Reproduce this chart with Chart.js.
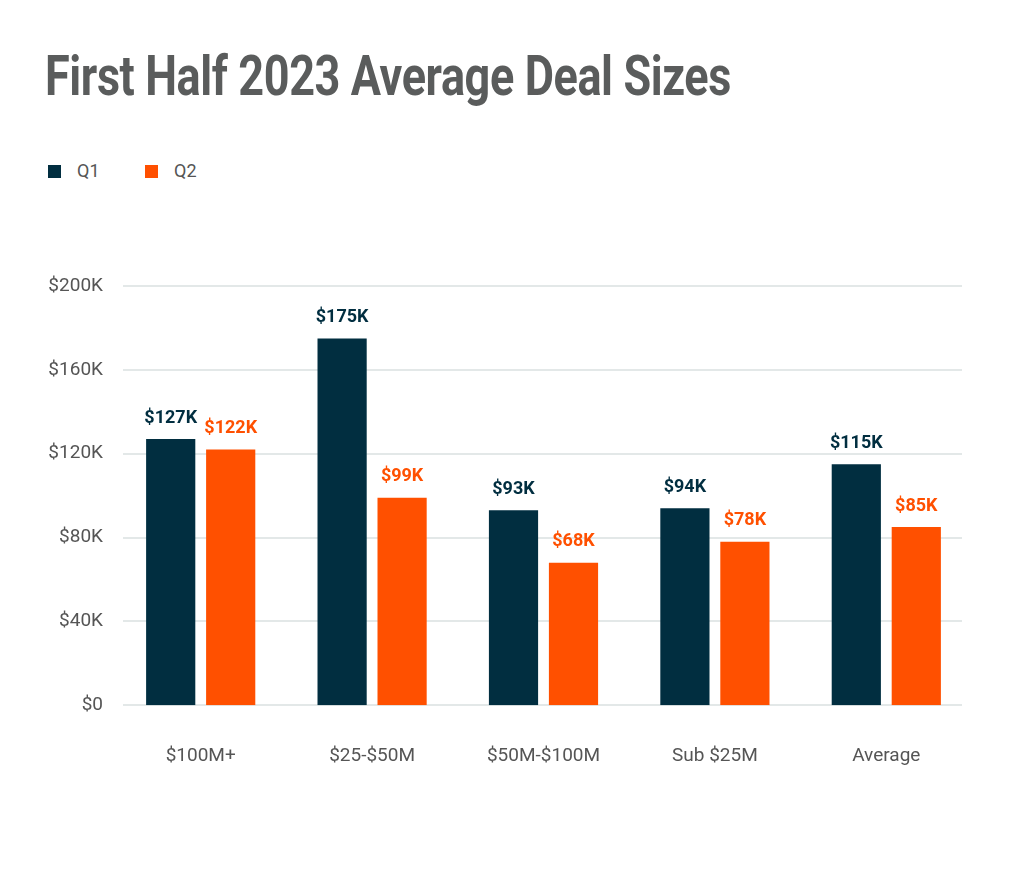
<!DOCTYPE html>
<html>
<head>
<meta charset="utf-8">
<script src="https://cdn.jsdelivr.net/npm/chart.js@4.4.0/dist/chart.umd.min.js"></script>
<style>
  html, body { margin: 0; padding: 0; background: #fff; }
  #wrap { position: relative; width: 1024px; height: 896px; overflow: hidden; }
  #title {
    position: absolute; left: 45px; top: 44px; margin: 0;
    font-family: Roboto, sans-serif; font-weight: bold; font-size: 55px;
    color: #5a5c5c; white-space: nowrap; transform-origin: left top;
    letter-spacing: -0.5px;
  }
  #legend { position: absolute; left: 48px; top: 160px; font-family: Roboto, sans-serif; font-size: 18px; color: #555; }
  #legend span.item { position: absolute; top: 0; white-space: nowrap; line-height: 22px; }
  #legend span.box { display: inline-block; width: 13px; height: 13px; margin-right: 16px; vertical-align: -1px; }
  canvas { position: absolute; left: 0; top: 0; }
</style>
</head>
<body>
<div id="wrap">
  <h1 id="title">First Half 2023 Average Deal Sizes</h1>
  <div id="legend"></div>
  <canvas id="dealChart" width="1024" height="896"></canvas>
</div>
<script>
    'use strict';

    // categories and values (thousands of dollars)
    var categories = ['$100M+', '$25-$50M', '$50M-$100M', 'Sub $25M', 'Average'];
    var seriesNames = ['Q1', 'Q2'];
    var q1Values = [127, 175, 93, 94, 115];
    var q2Values = [122, 99, 68, 78, 85];
    var yTicks = [0, 40, 80, 120, 160, 200];

    var navy = '#012e40';
    var orange = '#ff5000';
    var seriesColors = [navy, orange];

    // squeeze the title the way the condensed face looks
    var title = document.getElementById('title');
    var tw = title.getBoundingClientRect().width;
    title.style.transform = 'scaleX(' + (686 / tw) + ')';

    // html legend
    var legend = document.getElementById('legend');
    for (var i = 0; i < seriesNames.length; i++) {
        var item = document.createElement('span');
        item.className = 'item';
        item.style.left = (i * 97) + 'px';
        item.innerHTML = '<span class="box" style="background:' + seriesColors[i] + '"></span>' + seriesNames[i];
        legend.appendChild(item);
    }

    // grid lines drawn inset from the chart area, like the reference
    var insetGrid = {
        id: 'insetGrid',
        beforeDatasetsDraw: function (chart) {
            var ctx = chart.ctx;
            var y = chart.scales.y;
            ctx.save();
            ctx.strokeStyle = '#e3e8e8';
            ctx.lineWidth = 2;
            y.ticks.forEach(function (t) {
                var py = Math.round(y.getPixelForValue(t.value));
                ctx.beginPath();
                ctx.moveTo(123, py);
                ctx.lineTo(962, py);
                ctx.stroke();
            });
            ctx.restore();
        }
    };

    var valueLabels = {
        id: 'valueLabels',
        afterDatasetsDraw: function (chart) {
            var ctx = chart.ctx;
            ctx.save();
            ctx.font = 'bold 18px Roboto';
            ctx.textAlign = 'center';
            ctx.textBaseline = 'bottom';
            chart.data.datasets.forEach(function (ds, di) {
                chart.getDatasetMeta(di).data.forEach(function (bar, ix) {
                    ctx.fillStyle = ds.backgroundColor;
                    ctx.fillText('$' + ds.data[ix] + 'K', bar.x, bar.y - 12);
                });
            });
            ctx.restore();
        }
    };

    var dealChart = new Chart(document.getElementById('dealChart'), {
        type: 'bar',
        data: {
            labels: categories,
            datasets: [
                { label: seriesNames[0], data: q1Values, backgroundColor: navy },
                { label: seriesNames[1], data: q2Values, backgroundColor: orange }
            ]
        },
        options: {
            responsive: false,
            animation: false,
            layout: { padding: { top: 286, left: 38, right: 52, bottom: 96 } },
            datasets: { bar: { categoryPercentage: 0.7, barPercentage: 0.82 } },
            plugins: { legend: { display: false }, tooltip: { enabled: false } },
            scales: {
                x: {
                    grid: { display: false },
                    border: { display: false },
                    ticks: { color: '#555', font: { family: 'Roboto', size: 19 }, padding: 32 }
                },
                y: {
                    min: 0, max: 200,
                    afterFit: function (s) { s.width = 77; },
                    afterBuildTicks: function (s) { s.ticks = yTicks.map(function (v) { return { value: v }; }); },
                    grid: { display: false },
                    border: { display: false },
                    ticks: {
                        color: '#555', font: { family: 'Roboto', size: 19 }, padding: 4,
                        callback: function (v) { return v === 0 ? '$0' : '$' + v + 'K'; }
                    }
                }
            }
        },
        plugins: [insetGrid, valueLabels]
    });
</script>
</body>
</html>
